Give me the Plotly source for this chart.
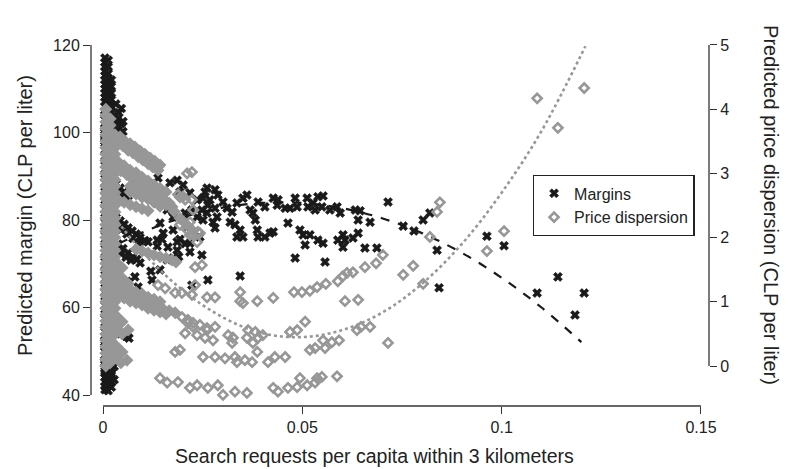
import plotly.graph_objects as go

# ---------------- data: predicted margins (left axis) ----------------
# dense column near zero search
mcol_x = [0.0005]*63 + [0.0013]*24 + [0.0021]*20 + [0.0028]*8
mcol_y = [117.0,116.0,115.0,114.0,113.0,112.0,111.0,110.0,109.0,108.0,107.0,106.0,105.0,104.0,103.0,102.0,101.0,100.0,99.0,98.0,97.0,96.0,
          94.5,92.5,90.5,88.5,86.5,84.5,82.5,80.5,78.5,76.5,74.5,72.5,70.5,68.5,66.5,64.5,62.5,60.5,58.5,56.5,54.5,52.5,
          51.0,50.0,49.0,48.0,47.0,46.0,45.0,44.0,43.0,42.0,41.2,100.5,99.5,98.5,97.5,53.5,52.0,47.5,45.5,
          116.5,115.0,113.5,112.0,110.5,109.0,107.5,106.0,104.5,103.0,101.5,100.0,98.5,97.0,51.5,50.0,48.5,47.0,45.5,44.0,42.5,41.0,49.2,43.5,
          112.0,110.5,109.0,107.5,106.0,104.5,103.0,101.5,100.0,98.5,97.0,50.5,49.0,47.5,46.0,44.5,43.0,41.8,48.5,45.0,
          104.0,102.5,101.0,99.5,98.0,49.5,46.5,43.5]
mblob_x = [0.0032,0.0040,0.0045,0.0038,0.0050,0.0042,0.0050,0.0035,0.0036,0.0046]
mblob_y = [106.5,104.5,102.0,100.5,100.2,98.5,102.5,97.5,103.0,105.5]
# sloping bands close to zero
mband_x = [0.0023,0.0033,0.0043,0.0053,0.0063,0.0030,0.0040,0.0050,0.0058,
           0.0013,0.0023,0.0033,0.0043,0.0053,0.0063,0.0073,0.0083,0.0093,0.0105,0.0018,0.0030,0.0045,0.0060,0.0075,0.0090,
           0.0013,0.0025,0.0038,0.0050,0.0063,0.0075,0.0085,0.0020,0.0033,0.0045,0.0058,0.0070,
           0.0015,0.0030,0.0045,0.0060,
           0.0030,0.0045,0.0058,0.0065]
mband_y = [89.1,88.3,87.3,86.4,85.5,87.0,86.0,85.2,84.5,
           82.3,81.5,80.5,79.8,79.0,78.2,77.5,76.8,76.0,75.3,80.0,79.0,77.8,76.8,75.8,74.8,
           77.0,75.8,74.5,73.5,72.5,71.5,71.0,74.5,73.3,72.3,71.5,70.8,
           68.5,67.5,66.5,66.0,
           54.6,54.0,53.4,53.0]
# scattered stations
msc_x = [0.0118,0.0138,0.0168,0.0186,0.0201,0.0193,0.0218,0.0236,0.0256,0.0263,0.0223,0.0206,0.0236,0.0251,0.0211,0.0176,0.0151,0.0136,0.0186,0.0218,
         0.0243,0.0113,0.0136,0.0148,0.0163,0.0186,0.0193,0.0206,0.0218,0.0176,0.0190,0.0161,0.0143,0.0093,0.0120,0.0176,0.0201,0.0161,0.0143,0.0080,
         0.0088,0.0123,0.0223,0.0263,0.0248,0.0344,
         0.0261,0.0281,0.0251,0.0268,0.0288,0.0301,0.0248,0.0261,0.0281,0.0286,0.0311,0.0324,0.0336,0.0351,0.0361,0.0369,0.0376,0.0389,0.0406,0.0427,
         0.0439,0.0437,0.0457,0.0469,0.0482,0.0487,0.0512,0.0514,0.0527,0.0532,0.0539,0.0552,0.0549,0.0569,0.0587,0.0595,0.0633,0.0645,
         0.0276,0.0281,0.0319,0.0331,0.0344,0.0336,0.0351,0.0382,0.0387,0.0389,0.0406,0.0419,0.0427,0.0464,0.0494,0.0502,0.0519,0.0507,0.0539,0.0552,
         0.0589,0.0602,0.0607,0.0602,0.0627,0.0640,0.0640,0.0670,0.0657,0.0687,0.0482,0.0557,
         0.0715,0.0753,0.0780,0.0803,0.0820,0.0838,0.0843,0.0963,0.1006,0.1089,0.1141,0.1184,0.1207]
msc_y = [87.5,89.6,88.5,89.1,88.0,86.4,86.2,84.6,86.4,83.4,82.3,81.6,80.7,80.0,78.4,77.7,77.0,75.4,75.0,74.7,
         76.1,75.0,74.0,75.6,73.8,73.1,75.6,74.6,72.7,71.3,71.6,70.9,68.6,70.2,68.3,80.7,80.0,82.3,79.3,67.0,
         64.7,66.3,65.1,66.3,72.0,67.2,
         87.3,86.9,85.0,84.6,85.7,84.1,82.3,81.6,82.7,80.7,82.7,81.8,83.9,85.0,85.7,82.3,81.6,84.1,83.0,85.0,
         84.6,83.4,82.7,82.7,85.0,83.0,85.0,83.0,83.9,82.3,85.3,85.5,83.0,82.3,83.0,81.6,82.3,82.1,
         79.5,78.2,79.5,78.9,77.7,76.1,76.1,80.0,77.7,76.1,76.1,77.0,77.3,79.3,77.7,76.6,76.6,74.3,75.4,74.7,
         75.4,76.6,75.4,73.8,75.9,77.0,80.0,79.5,73.6,73.6,71.3,70.4,
         84.1,78.6,77.5,80.0,81.6,73.1,64.5,76.3,74.1,63.3,67.0,58.3,63.3]

# ---------------- data: predicted price dispersion (right axis) ----------------
# dense column near zero search
dcol_x = [0.0007]*41 + [0.0018]*39 + [0.0030]*32
dcol_y = [4.0,3.9,3.8,3.7,3.6,3.5,3.4,3.3,3.2,3.1,3.0,2.9,2.8,2.7,2.6,2.5,2.4,2.3,2.2,2.1,2.0,1.9,1.8,1.7,1.6,1.5,1.4,1.3,1.2,1.1,1.0,0.9,0.8,0.7,0.6,0.5,0.4,0.3,0.2,0.1,0.0,
          3.85,3.75,3.65,3.55,3.45,3.35,3.25,3.15,3.05,2.95,2.85,2.75,2.65,2.55,2.45,2.35,2.25,2.15,2.05,1.95,1.85,1.75,1.65,1.55,1.45,1.35,1.25,1.15,1.05,0.95,0.85,0.75,0.65,0.55,0.45,0.35,0.25,0.15,0.05,
          3.6,3.5,3.4,3.3,3.2,3.1,3.0,2.9,2.8,2.7,2.6,2.5,2.4,2.3,2.2,2.1,2.0,1.9,1.8,1.7,1.6,1.5,1.4,1.3,1.2,1.1,1.0,0.9,0.8,0.7,0.6,0.5]
# dense sloping bands (upper group)
dupper_x = [0.0043,0.0055,0.0068,0.0080,0.0093,0.0105,0.0118,0.0130,0.0143,0.0050,0.0063,0.0075,0.0088,0.0100,0.0113,0.0125,0.0138,
            0.0023,0.0038,0.0053,0.0068,0.0083,0.0098,0.0113,0.0128,0.0143,0.0158,0.0030,0.0045,0.0060,0.0075,0.0090,0.0105,0.0120,0.0135,0.0150,0.0166,
            0.0068,0.0083,0.0098,0.0113,0.0128,0.0143,
            0.0068,0.0083,0.0098,0.0113,0.0128,0.0143,0.0158,0.0173,0.0023,0.0038,0.0053,0.0068,0.0083,0.0098,0.0113,
            0.0118,0.0133,0.0148,0.0163,0.0178,0.0193,0.0208,0.0223,
            0.0083,0.0098,0.0113,0.0128,0.0143,0.0158,0.0173,0.0183]
dupper_y = [3.57,3.50,3.46,3.41,3.35,3.30,3.24,3.19,3.13,3.43,3.36,3.32,3.26,3.21,3.15,3.10,3.05,
            3.24,3.18,3.12,3.05,3.01,2.94,2.88,2.82,2.77,2.71,3.10,3.04,2.98,2.91,2.85,2.79,2.73,2.66,2.60,2.54,
            2.80,2.74,2.68,2.62,2.55,2.49,
            2.71,2.68,2.63,2.60,2.57,2.54,2.51,2.48,2.59,2.59,2.55,2.51,2.48,2.45,2.42,
            2.80,2.71,2.62,2.52,2.41,2.30,2.21,2.12,
            1.82,1.79,1.76,1.73,1.70,1.68,1.65,1.62]
# dense sloping bands (lower group)
dlower_x = [0.0018,0.0033,0.0048,0.0018,0.0033,0.0048,0.0063,0.0018,0.0033,0.0048,
            0.0030,0.0045,0.0060,0.0075,0.0090,0.0105,0.0120,0.0135,0.0150,0.0166,0.0181,0.0053,0.0068,0.0083,0.0098,0.0113,0.0128,0.0143,
            0.0038,0.0053,0.0068,0.0083,0.0098,0.0113,0.0128,0.0143,0.0158,
            0.0018,0.0033,0.0048,0.0063,0.0018,0.0033,0.0048,
            0.0018,0.0033,0.0048,0.0060,0.0018,0.0033,0.0045,0.0018]
dlower_y = [1.68,1.62,1.53,1.56,1.46,1.37,1.28,1.40,1.31,1.23,
            1.18,1.15,1.11,1.07,1.03,1.00,0.95,0.92,0.89,0.86,0.83,1.25,1.20,1.15,1.12,1.07,1.04,1.00,
            1.09,1.06,1.01,0.98,0.95,0.90,0.87,0.84,0.81,
            0.87,0.78,0.69,0.56,0.69,0.59,0.50,
            0.40,0.31,0.22,0.09,0.25,0.16,0.05,0.09]
# individual stations
dsc_x = [0.0211,0.0223,0.0188,0.0201,
         0.0193,0.0211,0.0226,0.0218,0.0238,0.0236,0.0193,0.0206,0.0223,0.0226,0.0218,0.0243,
         0.0198,0.0213,0.0226,0.0213,0.0226,0.0206,0.0236,0.0261,
         0.0138,0.0156,0.0181,0.0198,0.0223,0.0231,0.0231,0.0248,
         0.0181,0.0193,0.0143,0.0161,0.0188,0.0218,0.0236,
         0.0261,0.0281,0.0344,0.0344,0.0351,0.0387,0.0427,0.0479,0.0499,0.0519,0.0537,0.0559,0.0589,0.0602,0.0612,0.0627,0.0657,0.0685,0.0607,0.0640,
         0.0507,0.0243,0.0261,0.0281,0.0256,0.0276,0.0314,0.0326,0.0324,0.0364,0.0361,0.0382,0.0389,0.0401,0.0376,0.0469,0.0487,0.0519,0.0532,0.0557,
         0.0552,0.0574,0.0592,0.0637,0.0647,0.0670,0.0715,0.0251,0.0281,0.0306,0.0331,0.0336,0.0356,0.0374,0.0387,0.0414,0.0431,0.0457,
         0.0263,0.0288,0.0301,0.0331,0.0361,0.0427,0.0439,0.0464,0.0487,0.0494,0.0512,0.0532,0.0549,0.0587,0.0537,0.0702,
         0.0845,0.0838,0.0820,0.0778,0.0753,0.0803,0.1006,0.0963,0.1184,0.1089,0.1207,0.1141]
dsc_y = [3.00,3.02,2.67,2.64,
         2.20,2.12,2.04,2.24,2.09,1.93,2.63,2.59,2.59,2.43,2.04,2.07,
         0.76,0.72,0.67,0.67,0.61,0.51,0.48,0.56,
         1.26,1.21,1.14,1.14,1.11,1.26,1.54,1.57,
         0.22,0.25,-0.19,-0.26,-0.25,-0.34,-0.30,
         1.07,1.07,1.15,1.01,0.98,1.01,1.06,1.15,1.15,1.17,1.23,1.28,1.32,1.40,1.45,1.46,1.54,1.60,1.01,1.03,
         0.69,0.64,0.59,0.61,0.44,0.40,0.48,0.44,0.36,0.56,0.44,0.53,0.44,0.48,0.36,0.53,0.56,0.25,0.28,0.28,
         0.40,0.37,0.40,0.56,0.61,0.61,0.36,0.14,0.14,0.12,0.14,0.06,0.09,0.06,0.22,0.06,0.14,0.14,
         -0.34,-0.30,-0.45,-0.40,-0.42,-0.34,-0.40,-0.34,-0.33,-0.19,-0.30,-0.26,-0.17,-0.16,-0.19,1.73,
         2.55,2.40,2.01,1.56,1.42,1.28,2.10,1.79,5.05,4.17,4.33,3.71]

# fitted curves
fitm_x = [0.0, 0.01, 0.02, 0.03, 0.04, 0.05, 0.06, 0.07, 0.08, 0.09, 0.10, 0.11, 0.12]
fitm_y = [72.8, 77.2, 80.6, 82.8, 83.9, 83.9, 82.7, 80.4, 77.0, 72.5, 66.8, 60.0, 52.1]
fitd_x = [0.0, 0.01, 0.02, 0.03, 0.04, 0.05, 0.06, 0.07, 0.08, 0.09, 0.10, 0.11, 0.121]
fitd_y = [2.55, 1.77, 1.18, 0.76, 0.51, 0.45, 0.56, 0.83, 1.28, 1.90, 2.70, 3.66, 4.98]

x_ticks = [0, 0.05, 0.1, 0.15]
x_ticktext = ["0", "0.05", "0.1", "0.15"]
y_ticks = [40, 60, 80, 100, 120]
y2_ticks = [0, 1, 2, 3, 4, 5]

FONT = "Liberation Sans, Arial, Helvetica, sans-serif"
INK = "#222222"
BLACK = "#1a1a1a"
GREY = "#979797"

fig = go.Figure()
fig.add_trace(go.Scatter(x=fitm_x, y=fitm_y, mode="lines", line=dict(color=BLACK, width=2.2, dash="dash", shape="spline"),
                         showlegend=False, hoverinfo="skip"))
fig.add_trace(go.Scatter(x=fitd_x, y=fitd_y, yaxis="y2", mode="lines",
                         line=dict(color=GREY, width=2.6, dash="dot", shape="spline"), showlegend=False, hoverinfo="skip"))

m_x = mcol_x + mblob_x + mband_x + msc_x
m_y = mcol_y + mblob_y + mband_y + msc_y

fig.add_trace(go.Scatter(x=m_x, y=m_y, mode="markers", name="Margins", cliponaxis=False,
                         marker=dict(symbol="x", size=8, color=BLACK, line=dict(width=0.6, color=BLACK))))
# overlapping diamonds in the dense part merge into solid grey
fig.add_trace(go.Scatter(x=dcol_x + dupper_x + dlower_x, y=dcol_y + dupper_y + dlower_y, yaxis="y2", mode="markers",
                         showlegend=False, cliponaxis=False, hoverinfo="skip",
                         marker=dict(symbol="diamond", size=10, color=GREY, line=dict(width=0))))
fig.add_trace(go.Scatter(x=dsc_x, y=dsc_y, yaxis="y2", mode="markers", name="Price dispersion", cliponaxis=False,
                         marker=dict(symbol="diamond-open", size=7, color=GREY, line=dict(width=2.6, color=GREY))))

axis_common = dict(showgrid=False, zeroline=False, showline=False, ticks="outside", ticklen=7,
                   tickwidth=1.3, tickcolor="#333333", tickfont=dict(family=FONT, size=16, color=INK))

fig.update_layout(
    width=788, height=469,
    margin=dict(l=91, r=79, t=43, b=63),
    paper_bgcolor="white", plot_bgcolor="white",
    font=dict(family=FONT, color=INK),
    xaxis=dict(range=[-0.00301, 0.15201], tickvals=x_ticks, ticktext=x_ticktext, **axis_common),
    yaxis=dict(range=[37.486, 120.457], tickvals=y_ticks, **axis_common),
    yaxis2=dict(range=[-0.623, 5.031], tickvals=y2_ticks, overlaying="y", side="right", **axis_common),
    legend=dict(x=0.977, xanchor="right", y=0.636, yanchor="top", bgcolor="white",
                bordercolor="#222222", borderwidth=1.3, itemwidth=30,
                font=dict(family=FONT, size=16, color=INK)),
    shapes=[
        dict(type="line", xref="x", yref="paper", x0=0, x1=0.15, y0=0, y1=0, line=dict(color="#333333", width=1.3)),
        dict(type="line", xref="paper", yref="y", x0=0, x1=0, y0=40, y1=120, line=dict(color="#333333", width=1.3)),
        dict(type="line", xref="paper", yref="y2", x0=1, x1=1, y0=0, y1=5, line=dict(color="#333333", width=1.3)),
    ],
    annotations=[
        dict(text="Search requests per capita within 3 kilometers", xref="paper", yref="paper",
             x=0.458, y=-0.138, xanchor="center", yanchor="middle", showarrow=False,
             font=dict(family=FONT, size=19.5, color=INK)),
        dict(text="Predicted margin (CLP per liter)", xref="paper", yref="paper",
             x=-0.107, y=0.526, xanchor="center", yanchor="middle", textangle=-90, showarrow=False,
             font=dict(family=FONT, size=20, color=INK)),
        dict(text="Predicted price dispersion (CLP per liter)", xref="paper", yref="paper",
             x=1.100, y=0.554, xanchor="center", yanchor="middle", textangle=90, showarrow=False,
             font=dict(family=FONT, size=20, color=INK)),
    ],
)

fig.write_html("out.html")
